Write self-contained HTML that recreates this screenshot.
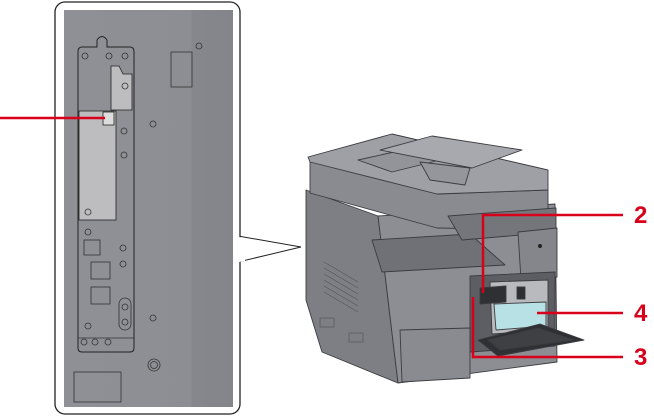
<!DOCTYPE html>
<html><head><meta charset="utf-8"><style>
html,body{margin:0;padding:0;background:#fff;width:654px;height:419px;overflow:hidden}
svg{display:block}
text{font-family:"Liberation Sans",sans-serif;font-weight:bold;fill:#d9001b}
</style></head><body>
<svg width="654" height="419" viewBox="0 0 654 419" xmlns="http://www.w3.org/2000/svg">
<defs>
<linearGradient id="pg" x1="0" x2="1" y1="0" y2="0">
<stop offset="0" stop-color="#8f9096"/><stop offset="0.75" stop-color="#8d8e94"/><stop offset="0.76" stop-color="#86878d"/><stop offset="1" stop-color="#84858b"/>
</linearGradient>
</defs>
<polygon points="238,236 301,247 238,262" fill="#fff" stroke="#222" stroke-width="1"/>
<rect x="55" y="2" width="185" height="412" rx="10" fill="#fff" stroke="#222" stroke-width="1.3"/>
<rect x="64" y="10" width="169" height="397" fill="url(#pg)"/>
<polygon points="239,237 245,238 245,261 239,262" fill="#fff"/>
<path d="M82,47 L97,47 L97,40 Q102,33 107,40 L107,47 L130,47 Q134,47 134,52 L134,348 Q134,352 130,352 L82,352 Q78,352 78,348 L78,52 Q78,47 82,47 Z" fill="#8f9096" stroke="#222" stroke-width="1"/>
<line x1="78" y1="338" x2="134" y2="338" stroke="#333" stroke-width="0.8"/>
<polygon points="111,66 119,66 123,74 132,74 132,110 111,110" fill="#bdbdbf" stroke="#222" stroke-width="0.8"/>
<rect x="79" y="111" width="37" height="109" fill="#bdbdbf" stroke="#222" stroke-width="0.8"/>
<rect x="103" y="112" width="11" height="13" fill="#ddd" stroke="#222" stroke-width="0.8"/>
<rect x="171" y="52" width="21" height="35" fill="none" stroke="#333" stroke-width="0.8"/>
<rect x="84" y="240" width="16" height="15" fill="none" stroke="#333" stroke-width="0.8"/>
<rect x="91" y="262" width="19" height="17" fill="none" stroke="#333" stroke-width="0.8"/>
<rect x="91" y="287" width="19" height="17" fill="none" stroke="#333" stroke-width="0.8"/>
<rect x="119" y="298" width="12" height="32" rx="6" fill="none" stroke="#333" stroke-width="0.8"/>
<rect x="74" y="372" width="47" height="30" fill="none" stroke="#333" stroke-width="0.8"/>
<g fill="none" stroke="#333" stroke-width="0.8">
<circle cx="85" cy="56" r="3"/><circle cx="109" cy="56" r="3"/><circle cx="125" cy="56" r="3"/>
<circle cx="125" cy="86" r="3"/><circle cx="124" cy="131" r="3"/><circle cx="124" cy="155" r="3"/>
<circle cx="153" cy="124" r="3"/><circle cx="199" cy="46" r="3"/><circle cx="88" cy="212" r="3"/>
<circle cx="88" cy="232" r="3"/><circle cx="123" cy="248" r="3"/><circle cx="123" cy="264" r="3"/>
<circle cx="125" cy="307" r="3"/><circle cx="125" cy="322" r="3"/><circle cx="153" cy="318" r="3"/>
<circle cx="88" cy="326" r="3"/><circle cx="84" cy="342" r="3"/><circle cx="95" cy="342" r="3"/><circle cx="108" cy="342" r="3"/>
<circle cx="154" cy="365" r="6"/><circle cx="154" cy="365" r="3.5"/>
</g>
<line x1="0" y1="118" x2="105" y2="118" stroke="#d9001b" stroke-width="2.5"/>
<g stroke="#3b3c40" stroke-width="0.9" stroke-linejoin="round">
<polygon points="306,190 378,216 398,383 322,352 306,300" fill="#7e7f84"/>
<polygon points="378,216 555,204 557,362 398,383" fill="#8d8e93"/>
<polygon points="310,160 437,194 548,190 548,230 437,228 310,193" fill="#8a8b90"/>
<polygon points="308,157 392,134 548,170 548,190 437,194 310,162" fill="#9fa0a5"/>
<polygon points="358,160 412,148 440,160 392,172" fill="#93949a"/>
<polygon points="380,150 432,136 522,150 472,168" fill="#a8a9ae"/>
<polygon points="420,162 470,168 465,185 430,180" fill="#95969b"/>
<polygon points="372,240 470,234 505,265 382,272" fill="#707176"/>
<polygon points="448,216 556,208 556,232 462,240" fill="#75767b"/>
<polygon points="518,232 557,228 557,277 521,280" fill="#85868b"/>
<polygon points="470,276 555,272 555,346 470,352" fill="#5d5e63"/>
<polygon points="490,282 548,280 548,330 492,334" fill="#b9babd"/>
<polygon points="480,288 506,286 506,302 480,304" fill="#2f3034"/>
<polygon points="494,304 546,302 546,326 496,330" fill="#b7e1e5"/>
<rect x="517" y="287" width="8" height="12" fill="#2f3034"/>
<polygon points="478,340 540,324 584,340 498,356" fill="#2f3034"/>
<polygon points="488,340 538,328 574,340 500,350" fill="#3f4044"/>
<polygon points="400,330 470,328 470,378 402,382" fill="#8a8b90"/>
</g>
<g stroke="#55565a" stroke-width="0.7">
<line x1="324" y1="262" x2="358" y2="282"/><line x1="324" y1="268" x2="358" y2="288"/>
<line x1="324" y1="274" x2="358" y2="294"/><line x1="324" y1="280" x2="358" y2="300"/>
<line x1="324" y1="286" x2="358" y2="306"/><line x1="324" y1="292" x2="358" y2="312"/>
<rect x="320" y="318" width="14" height="9" fill="none"/><rect x="349" y="333" width="14" height="9" fill="none"/>
</g>
<circle cx="540" cy="246" r="2" fill="#222"/>
<g stroke="#d9001b" stroke-width="2.5" fill="none">
<polyline points="483,293 483,215 623,215"/>
<polyline points="473,297 473,357 623,357"/>
<line x1="537" y1="313" x2="623" y2="313"/>
</g>
<text x="634" y="223" style="font-size:24px">2</text>
<text x="634" y="321" style="font-size:24px">4</text>
<text x="634" y="365" style="font-size:24px">3</text>
</svg>
</body></html>
